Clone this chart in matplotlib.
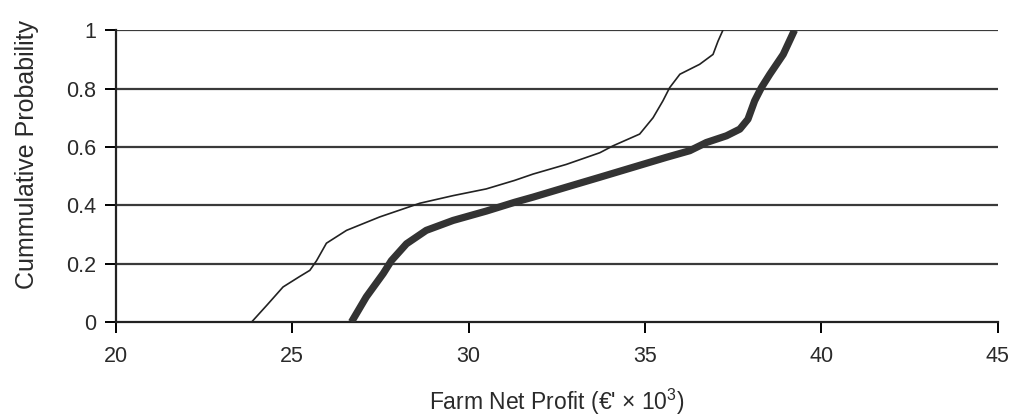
import numpy as np
import matplotlib
matplotlib.use("Agg")
import matplotlib.pyplot as plt
from matplotlib.ticker import FuncFormatter

plt.rcParams['font.family'] = ['Liberation Sans', 'DejaVu Sans']
plt.rcParams['mathtext.default'] = 'regular'

# thin curve
thin_x = [23.85, 24.3, 24.74, 25.2, 25.5, 25.69, 25.97, 26.54, 27.48, 28.62,
          29.56, 30.5, 31.3, 31.83, 32.77, 33.72, 34.1, 34.85, 35.23, 35.51,
          35.7, 35.99, 36.55, 36.93, 37.07, 37.21]
thin_y = [0.0, 0.06, 0.12, 0.155, 0.177, 0.21, 0.27, 0.314, 0.36, 0.407,
          0.433, 0.456, 0.485, 0.507, 0.54, 0.58, 0.604, 0.644, 0.70, 0.758,
          0.803, 0.849, 0.883, 0.917, 0.962, 1.0]

# thick curve
thick_x = [26.68, 27.1, 27.58, 27.81, 28.24, 28.8, 29.56, 30.5, 31.3, 31.83,
           32.77, 33.72, 34.66, 35.6, 36.27, 36.74, 37.31, 37.69, 37.92, 38.11,
           38.3, 38.54, 38.92, 39.24]
thick_y = [0.0, 0.086, 0.166, 0.21, 0.268, 0.314, 0.348, 0.38, 0.41, 0.428,
           0.462, 0.496, 0.53, 0.564, 0.587, 0.615, 0.638, 0.661, 0.695, 0.758,
           0.803, 0.849, 0.917, 1.0]

fig = plt.figure(figsize=(10.16, 4.19), dpi=100)
ax = fig.add_axes([0.114, 0.2315, 0.868, 0.6965])

for yv in [0.2, 0.4, 0.6, 0.8, 1.0]:
    ax.axhline(yv, color='#3a3a3a', lw=1.6, zorder=1)

ax.plot(thin_x, thin_y, color='#222222', lw=1.2, zorder=3)
ax.plot(thick_x, thick_y, color='#333333', lw=5.2, solid_capstyle='butt', zorder=3)

ax.set_xlim(20, 45)
ax.set_ylim(0, 1)
ax.set_xticks([20, 25, 30, 35, 40, 45])
ax.set_yticks([0, 0.2, 0.4, 0.6, 0.8, 1.0])
ax.yaxis.set_major_formatter(FuncFormatter(lambda v, p: '%g' % v))

for s in ['top', 'right']:
    ax.spines[s].set_visible(False)
for s in ['left', 'bottom']:
    ax.spines[s].set_color('#222222')
    ax.spines[s].set_linewidth(1.6)

ax.tick_params(axis='y', direction='out', length=8, width=1.4, labelsize=15.5, pad=6)
ax.tick_params(axis='x', direction='out', length=8, width=1.4, labelsize=15.5, pad=9)

ax.set_ylabel('Cummulative Probability', fontsize=18, color='#2a2a2a')
ax.yaxis.set_label_coords(-0.087, 0.575)
ax.set_xlabel("Farm Net Profit (€' × 10$^{3}$)", fontsize=16.5, color='#2a2a2a')
ax.xaxis.set_label_coords(0.5, -0.222)
for lbl in ax.get_xticklabels() + ax.get_yticklabels():
    lbl.set_color('#2a2a2a')

fig.savefig('out.png', dpi=100, facecolor='white')
